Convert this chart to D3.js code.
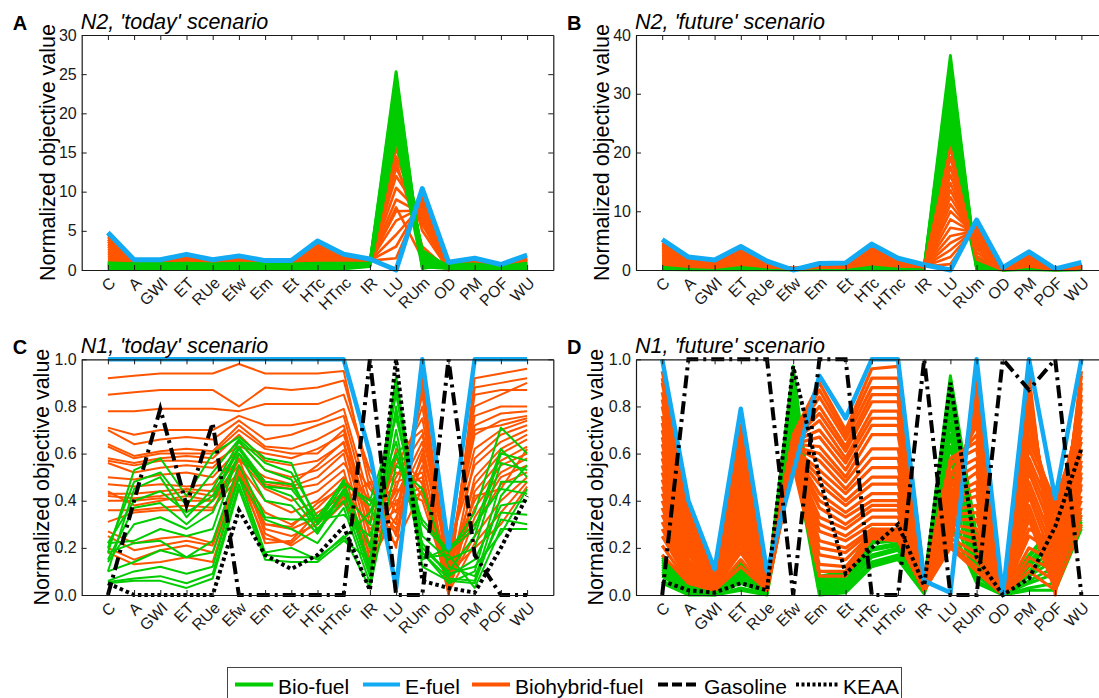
<!DOCTYPE html>
<html>
<head>
<meta charset="utf-8">
<script src="https://cdn.jsdelivr.net/npm/d3@7"></script>
<style>
  body { margin: 0; background: #fff; }
  svg text { font-family: "Liberation Sans", Arial, sans-serif; }
</style>
</head>
<body>
<svg class="MainSvg"></svg>
<script>
// ---- categories / ticks / titles ----
const categories = ["C", "A", "GWI", "ET", "RUe", "Efw", "Em", "Et", "HTc", "HTnc", "IR", "LU", "RUm", "OD", "PM", "POF", "WU"];
const ticksN2today = [0, 5, 10, 15, 20, 25, 30];
const ticksN2future = [0, 10, 20, 30, 40];
const ticksN1 = [0, 0.2, 0.4, 0.6, 0.8, 1.0];
const panelLetters = ["A", "B", "C", "D"];
const panelTitles = ["N2, 'today' scenario", "N2, 'future' scenario", "N1, 'today' scenario", "N1, 'future' scenario"];
const legendNames = ["Bio-fuel", "E-fuel", "Biohybrid-fuel", "Gasoline", "KEAA"];

// ---- A: N2 today ----
const aEfuel = [4.8, 1.3, 1.3, 2.0, 1.3, 1.8, 1.2, 1.2, 3.7, 2.0, 1.4, 0.0, 10.4, 1.0, 1.5, 0.7, 1.9];
const aBiohybrid = [
  [4.5, 1.0, 1.0, 1.6, 1.0, 1.4, 0.9, 0.9, 3.3, 1.7, 1.2, 1.5, 9.3, 0.9, 1.1, 0.5, 1.5],
  [4.2, 1.0, 1.0, 1.55, 1.0, 1.35, 0.9, 0.9, 3.1, 1.65, 1.2, 3.0, 8.8, 0.8, 1.1, 0.5, 1.45],
  [3.9, 0.95, 0.98, 1.5, 0.98, 1.3, 0.88, 0.88, 2.9, 1.6, 1.15, 4.5, 8.3, 0.7, 1.05, 0.48, 1.4],
  [3.6, 0.95, 0.97, 1.45, 0.97, 1.28, 0.88, 0.87, 2.7, 1.55, 1.15, 6.3, 8.0, 0.6, 1.0, 0.47, 1.35],
  [3.3, 0.93, 0.96, 1.4, 0.95, 1.25, 0.87, 0.86, 2.5, 1.5, 1.1, 7.5, 7.6, 0.5, 1.0, 0.46, 1.3],
  [3.0, 0.92, 0.95, 1.35, 0.94, 1.2, 0.86, 0.85, 2.3, 1.45, 1.1, 9.0, 7.2, 0.4, 0.98, 0.45, 1.25],
  [2.7, 0.9, 0.93, 1.3, 0.93, 1.18, 0.85, 0.84, 2.1, 1.4, 1.05, 10.5, 7.0, 0.3, 0.95, 0.44, 1.2],
  [2.4, 0.9, 0.92, 1.25, 0.92, 1.15, 0.85, 0.83, 1.9, 1.35, 1.05, 12.0, 6.8, 0.25, 0.93, 0.43, 1.15],
  [2.1, 0.88, 0.9, 1.2, 0.9, 1.1, 0.84, 0.82, 1.7, 1.3, 1.0, 13.0, 6.5, 0.2, 0.9, 0.42, 1.1],
  [1.8, 0.87, 0.9, 1.15, 0.9, 1.08, 0.83, 0.81, 1.5, 1.25, 1.0, 14.5, 6.2, 0.15, 0.88, 0.41, 1.05],
  [1.5, 0.86, 0.88, 1.1, 0.88, 1.05, 0.82, 0.8, 1.3, 1.2, 0.98, 15.5, 5.8, 0.1, 0.85, 0.4, 1.0],
  [1.2, 0.85, 0.87, 1.05, 0.87, 1.0, 0.82, 0.8, 1.1, 1.15, 0.96, 16.5, 5.0, 0.05, 0.83, 0.4, 0.95],
  [1.0, 0.84, 0.86, 1.0, 0.86, 0.98, 0.81, 0.79, 1.0, 1.1, 0.95, 13.8, 3.0, 0.0, 0.82, 0.39, 0.92],
  [0.95, 0.84, 0.85, 0.95, 0.85, 0.95, 0.8, 0.78, 0.95, 1.05, 0.94, 8.0, 1.5, 0.0, 0.8, 0.38, 0.9]
];
const aBio = [
  [0.9, 0.8, 0.8, 0.85, 0.75, 0.85, 0.8, 0.75, 0.85, 0.85, 0.85, 25.3, 0.2, 0.75, 0.75, 0.42, 0.85],
  [0.85, 0.75, 0.78, 0.82, 0.72, 0.82, 0.78, 0.72, 0.82, 0.82, 0.82, 24.6, 0.5, 0.72, 0.72, 0.4, 0.82],
  [0.8, 0.72, 0.75, 0.8, 0.7, 0.8, 0.75, 0.7, 0.8, 0.8, 0.8, 23.8, 0.8, 0.7, 0.7, 0.38, 0.8],
  [0.75, 0.7, 0.72, 0.75, 0.66, 0.76, 0.72, 0.66, 0.76, 0.76, 0.78, 23.0, 1.0, 0.66, 0.66, 0.36, 0.76],
  [0.7, 0.65, 0.68, 0.7, 0.62, 0.72, 0.68, 0.62, 0.72, 0.72, 0.75, 22.2, 1.3, 0.62, 0.62, 0.34, 0.72],
  [0.62, 0.6, 0.62, 0.65, 0.58, 0.66, 0.62, 0.58, 0.66, 0.66, 0.72, 21.4, 1.6, 0.58, 0.58, 0.32, 0.66],
  [0.55, 0.55, 0.56, 0.6, 0.52, 0.6, 0.56, 0.52, 0.6, 0.6, 0.7, 20.6, 1.9, 0.52, 0.52, 0.3, 0.6],
  [0.48, 0.48, 0.5, 0.52, 0.46, 0.52, 0.5, 0.46, 0.52, 0.52, 0.66, 19.8, 2.1, 0.46, 0.46, 0.27, 0.52],
  [0.4, 0.4, 0.42, 0.45, 0.4, 0.45, 0.42, 0.4, 0.45, 0.45, 0.62, 19.0, 2.3, 0.4, 0.4, 0.24, 0.45],
  [0.32, 0.32, 0.34, 0.36, 0.32, 0.36, 0.34, 0.32, 0.36, 0.36, 0.58, 18.2, 2.5, 0.34, 0.34, 0.2, 0.36],
  [0.22, 0.22, 0.24, 0.26, 0.22, 0.26, 0.24, 0.22, 0.26, 0.26, 0.52, 17.4, 1.2, 0.26, 0.26, 0.15, 0.26],
  [0.12, 0.12, 0.14, 0.16, 0.12, 0.16, 0.14, 0.12, 0.16, 0.16, 0.45, 16.8, 0.4, 0.18, 0.18, 0.1, 0.16]
];

// ---- B: N2 future ----
const bEfuel = [5.2, 2.2, 1.7, 4.0, 1.5, 0.0, 1.1, 1.2, 4.4, 2.0, 0.9, 0.0, 8.5, 0.4, 3.1, 0.2, 1.3];
const bBiohybrid = [
  [4.6, 1.8, 1.2, 3.5, 1.0, 0.3, 0.8, 0.9, 3.9, 1.6, 0.6, 1.0, 7.5, 0.1, 2.6, 0.1, 0.9],
  [4.35, 1.72, 1.15, 3.3, 0.97, 0.3, 0.77, 0.86, 3.7, 1.53, 0.59, 2.2, 7.3, 0.1, 2.45, 0.1, 0.87],
  [4.1, 1.65, 1.1, 3.1, 0.93, 0.29, 0.74, 0.83, 3.5, 1.47, 0.58, 3.4, 7.1, 0.1, 2.3, 0.1, 0.84],
  [3.85, 1.57, 1.06, 2.9, 0.9, 0.29, 0.71, 0.8, 3.3, 1.4, 0.57, 4.6, 6.9, 0.09, 2.15, 0.09, 0.8],
  [3.6, 1.5, 1.01, 2.7, 0.87, 0.28, 0.68, 0.76, 3.1, 1.34, 0.56, 5.8, 6.7, 0.09, 2.0, 0.09, 0.77],
  [3.35, 1.42, 0.96, 2.5, 0.83, 0.28, 0.65, 0.73, 2.9, 1.28, 0.55, 7.2, 6.4, 0.08, 1.85, 0.08, 0.73],
  [3.1, 1.35, 0.92, 2.3, 0.8, 0.27, 0.62, 0.7, 2.7, 1.21, 0.55, 8.6, 6.1, 0.08, 1.7, 0.08, 0.7],
  [2.85, 1.27, 0.87, 2.1, 0.77, 0.27, 0.59, 0.66, 2.5, 1.15, 0.54, 10.0, 5.8, 0.07, 1.55, 0.07, 0.66],
  [2.6, 1.2, 0.82, 1.95, 0.73, 0.26, 0.56, 0.63, 2.3, 1.08, 0.53, 11.2, 5.4, 0.07, 1.45, 0.07, 0.62],
  [2.35, 1.12, 0.77, 1.8, 0.7, 0.26, 0.53, 0.6, 2.1, 1.02, 0.53, 12.4, 5.0, 0.06, 1.35, 0.06, 0.58],
  [2.1, 1.04, 0.72, 1.65, 0.67, 0.25, 0.51, 0.56, 1.9, 0.96, 0.52, 13.6, 4.6, 0.05, 1.2, 0.05, 0.55],
  [1.85, 0.96, 0.67, 1.5, 0.63, 0.25, 0.49, 0.53, 1.7, 0.9, 0.52, 14.8, 4.1, 0.04, 1.1, 0.04, 0.51],
  [1.6, 0.87, 0.61, 1.35, 0.6, 0.24, 0.47, 0.5, 1.55, 0.83, 0.51, 16.2, 3.6, 0.03, 0.95, 0.03, 0.47],
  [1.4, 0.77, 0.54, 1.2, 0.57, 0.23, 0.45, 0.47, 1.4, 0.75, 0.51, 17.6, 3.0, 0.02, 0.85, 0.02, 0.43],
  [1.2, 0.66, 0.47, 1.05, 0.53, 0.23, 0.42, 0.44, 1.2, 0.68, 0.5, 19.2, 2.4, 0.01, 0.72, 0.01, 0.4],
  [0.95, 0.55, 0.4, 0.9, 0.5, 0.22, 0.4, 0.4, 1.0, 0.6, 0.5, 20.8, 1.8, 0.0, 0.6, 0.0, 0.35]
];
const bBio = [
  [0.9, 0.45, 0.35, 0.85, 0.45, 0.2, 0.35, 0.35, 0.95, 0.55, 0.45, 36.5, 0.1, 0.1, 0.6, 0.1, 0.35],
  [0.85, 0.42, 0.33, 0.8, 0.42, 0.19, 0.33, 0.33, 0.9, 0.52, 0.43, 35.1, 0.3, 0.1, 0.56, 0.1, 0.33],
  [0.78, 0.4, 0.31, 0.74, 0.4, 0.18, 0.31, 0.31, 0.84, 0.5, 0.41, 33.7, 0.5, 0.09, 0.52, 0.09, 0.31],
  [0.72, 0.37, 0.29, 0.68, 0.37, 0.17, 0.29, 0.29, 0.78, 0.46, 0.39, 32.3, 0.7, 0.08, 0.48, 0.08, 0.29],
  [0.65, 0.34, 0.27, 0.62, 0.34, 0.16, 0.27, 0.27, 0.71, 0.42, 0.37, 30.9, 0.9, 0.08, 0.44, 0.08, 0.27],
  [0.58, 0.31, 0.24, 0.55, 0.31, 0.15, 0.24, 0.24, 0.64, 0.38, 0.35, 29.5, 1.1, 0.07, 0.4, 0.07, 0.24],
  [0.5, 0.27, 0.21, 0.48, 0.27, 0.13, 0.21, 0.21, 0.56, 0.34, 0.32, 28.1, 1.3, 0.06, 0.35, 0.06, 0.21],
  [0.42, 0.23, 0.18, 0.41, 0.23, 0.12, 0.18, 0.18, 0.48, 0.29, 0.29, 26.7, 1.5, 0.05, 0.3, 0.05, 0.18],
  [0.34, 0.19, 0.15, 0.34, 0.19, 0.1, 0.15, 0.15, 0.39, 0.24, 0.25, 25.3, 1.7, 0.04, 0.25, 0.04, 0.15],
  [0.26, 0.15, 0.12, 0.26, 0.15, 0.08, 0.12, 0.12, 0.3, 0.18, 0.2, 23.9, 1.9, 0.03, 0.19, 0.03, 0.12],
  [0.18, 0.1, 0.08, 0.18, 0.1, 0.06, 0.08, 0.08, 0.2, 0.12, 0.14, 22.5, 1.2, 0.02, 0.12, 0.02, 0.08],
  [0.1, 0.05, 0.05, 0.1, 0.05, 0.05, 0.05, 0.05, 0.1, 0.05, 0.08, 21.1, 0.4, 0.0, 0.05, 0.0, 0.05]
];

// ---- C: N1 today ----
const cEfuel = [1, 1, 1, 1, 1, 1, 1, 1, 1, 1, 0.6, 0.03, 1.0, 0.2, 1.0, 1.0, 1.0];
const cGasoline = [0.0, 0.4, 0.79, 0.38, 0.73, 0.0, 0.0, 0.0, 0.0, 0.0, 1.0, 0.0, 0.0, 1.0, 0.17, 0.0, 0.0];
const cKeaa = [0.05, 0.0, 0.0, 0.0, 0.0, 0.36, 0.17, 0.11, 0.17, 0.29, 0.02, 1.0, 0.06, 0.03, 0.01, 0.2, 0.42];
const cBiohybrid = [
  [0.92, 0.93, 0.94, 0.94, 0.94, 0.98, 0.94, 0.94, 0.94, 0.95, 0.45, 0.30, 0.93, 0.02, 0.92, 0.94, 0.96],
  [0.85, 0.86, 0.87, 0.87, 0.87, 0.80, 0.88, 0.87, 0.88, 0.91, 0.50, 0.25, 0.88, 0.05, 0.88, 0.90, 0.92],
  [0.78, 0.78, 0.79, 0.79, 0.79, 0.78, 0.81, 0.81, 0.81, 0.85, 0.53, 0.35, 0.85, 0.08, 0.85, 0.87, 0.87],
  [0.71, 0.68, 0.70, 0.70, 0.70, 0.76, 0.72, 0.72, 0.74, 0.79, 0.40, 0.45, 0.80, 0.10, 0.76, 0.80, 0.80],
  [0.70, 0.64, 0.66, 0.67, 0.66, 0.74, 0.66, 0.68, 0.72, 0.76, 0.35, 0.55, 0.75, 0.12, 0.72, 0.77, 0.78],
  [0.64, 0.59, 0.61, 0.62, 0.61, 0.72, 0.63, 0.62, 0.66, 0.72, 0.30, 0.60, 0.70, 0.15, 0.68, 0.74, 0.76],
  [0.63, 0.58, 0.60, 0.60, 0.60, 0.70, 0.62, 0.60, 0.60, 0.70, 0.25, 0.50, 0.68, 0.18, 0.62, 0.70, 0.74],
  [0.58, 0.56, 0.58, 0.59, 0.58, 0.68, 0.57, 0.55, 0.57, 0.645, 0.20, 0.42, 0.65, 0.05, 0.58, 0.68, 0.72],
  [0.56, 0.52, 0.54, 0.55, 0.54, 0.65, 0.53, 0.50, 0.53, 0.615, 0.45, 0.38, 0.62, 0.20, 0.55, 0.65, 0.70],
  [0.50, 0.49, 0.51, 0.52, 0.50, 0.62, 0.48, 0.46, 0.50, 0.60, 0.15, 0.33, 0.58, 0.03, 0.50, 0.62, 0.68],
  [0.47, 0.46, 0.47, 0.46, 0.47, 0.60, 0.47, 0.45, 0.47, 0.56, 0.40, 0.28, 0.55, 0.10, 0.47, 0.60, 0.66],
  [0.43, 0.43, 0.44, 0.45, 0.44, 0.58, 0.45, 0.40, 0.44, 0.53, 0.12, 0.48, 0.52, 0.00, 0.44, 0.57, 0.63],
  [0.42, 0.41, 0.42, 0.44, 0.42, 0.55, 0.40, 0.35, 0.40, 0.50, 0.35, 0.52, 0.48, 0.13, 0.40, 0.55, 0.60],
  [0.40, 0.40, 0.41, 0.40, 0.40, 0.52, 0.35, 0.30, 0.37, 0.475, 0.10, 0.40, 0.46, 0.07, 0.37, 0.52, 0.58],
  [0.36, 0.36, 0.37, 0.38, 0.37, 0.50, 0.30, 0.28, 0.33, 0.44, 0.30, 0.22, 0.45, 0.02, 0.33, 0.50, 0.55],
  [0.31, 0.35, 0.36, 0.36, 0.36, 0.58, 0.28, 0.25, 0.30, 0.415, 0.18, 0.58, 0.42, 0.15, 0.30, 0.47, 0.52],
  [0.27, 0.22, 0.24, 0.25, 0.22, 0.55, 0.26, 0.21, 0.28, 0.39, 0.22, 0.45, 0.40, 0.05, 0.25, 0.40, 0.50],
  [0.25, 0.19, 0.21, 0.23, 0.21, 0.53, 0.22, 0.23, 0.35, 0.42, 0.14, 0.62, 0.47, 0.01, 0.22, 0.35, 0.48],
  [0.20, 0.15, 0.19, 0.21, 0.18, 0.52, 0.30, 0.29, 0.39, 0.46, 0.28, 0.36, 0.44, 0.09, 0.20, 0.30, 0.46],
  [0.18, 0.13, 0.14, 0.16, 0.14, 0.50, 0.24, 0.22, 0.32, 0.40, 0.48, 0.20, 0.90, 0.12, 0.80, 0.85, 0.90],
  [0.57, 0.55, 0.57, 0.57, 0.56, 0.63, 0.60, 0.58, 0.62, 0.68, 0.33, 0.27, 0.60, 0.16, 0.70, 0.72, 0.75],
  [0.44, 0.38, 0.40, 0.42, 0.40, 0.57, 0.50, 0.47, 0.55, 0.65, 0.26, 0.44, 0.50, 0.04, 0.42, 0.45, 0.62]
];
const cBio = [
  [0.18, 0.53, 0.58, 0.42, 0.60, 0.67, 0.58, 0.56, 0.30, 0.47, 0.40, 0.75, 0.30, 0.18, 0.35, 0.71, 0.60],
  [0.10, 0.45, 0.50, 0.33, 0.45, 0.65, 0.53, 0.49, 0.27, 0.45, 0.20, 0.93, 0.20, 0.10, 0.25, 0.60, 0.57],
  [0.22, 0.40, 0.44, 0.35, 0.42, 0.63, 0.48, 0.47, 0.30, 0.43, 0.30, 0.85, 0.25, 0.15, 0.20, 0.56, 0.53],
  [0.15, 0.37, 0.39, 0.30, 0.40, 0.62, 0.46, 0.42, 0.28, 0.40, 0.08, 0.80, 0.18, 0.05, 0.10, 0.48, 0.48],
  [0.22, 0.23, 0.28, 0.25, 0.28, 0.60, 0.46, 0.45, 0.31, 0.49, 0.12, 0.70, 0.15, 0.20, 0.30, 0.45, 0.43],
  [0.18, 0.22, 0.23, 0.16, 0.23, 0.55, 0.33, 0.32, 0.32, 0.34, 0.25, 0.60, 0.22, 0.08, 0.15, 0.38, 0.40],
  [0.10, 0.14, 0.19, 0.16, 0.18, 0.50, 0.32, 0.28, 0.22, 0.37, 0.05, 0.88, 0.12, 0.06, 0.05, 0.35, 0.34],
  [0.06, 0.10, 0.12, 0.09, 0.12, 0.50, 0.18, 0.20, 0.15, 0.25, 0.03, 0.55, 0.45, 0.12, 0.08, 0.32, 0.30],
  [0.055, 0.07, 0.08, 0.05, 0.09, 0.47, 0.17, 0.16, 0.16, 0.24, 0.35, 0.65, 0.16, 0.17, 0.03, 0.28, 0.28],
  [0.05, 0.06, 0.06, 0.03, 0.07, 0.45, 0.15, 0.14, 0.14, 0.23, 0.15, 0.78, 0.20, 0.09, 0.12, 0.26, 0.45],
  [0.14, 0.30, 0.33, 0.28, 0.35, 0.60, 0.40, 0.38, 0.26, 0.44, 0.10, 0.90, 0.18, 0.07, 0.06, 0.42, 0.55],
  [0.20, 0.48, 0.52, 0.38, 0.52, 0.66, 0.56, 0.52, 0.33, 0.48, 0.38, 0.60, 0.32, 0.19, 0.28, 0.62, 0.50]
];

// ---- D: N1 future ----
const dEfuel = [1.0, 0.4, 0.11, 0.79, 0.1, 0.52, 0.93, 0.75, 1.0, 1.0, 0.06, 0.01, 1.0, 0.0, 1.0, 0.41, 1.0];
const dGasoline = [0, 1, 1, 1, 1, 0, 1, 1, 0, 0, 1, 0, 0, 1, 0.87, 1, 0];
const dKeaa = [0.06, 0.02, 0.01, 0.05, 0.02, 0.97, 0.5, 0.09, 0.2, 0.3, 0.04, 0.9, 0.16, 0.0, 0.07, 0.29, 0.62];
const dBiohybrid = [
  [0.95, 0.38, 0.10, 0.72, 0.08, 0.68, 0.90, 0.70, 0.96, 0.97, 0.08, 0.20, 0.92, 0.0, 0.93, 0.0, 0.95],
  [0.92, 0.36, 0.09, 0.69, 0.08, 0.67, 0.87, 0.68, 0.92, 0.92, 0.07, 0.25, 0.88, 0.0, 0.90, 0.05, 0.93],
  [0.90, 0.34, 0.09, 0.66, 0.07, 0.67, 0.84, 0.66, 0.88, 0.88, 0.07, 0.30, 0.85, 0.0, 0.88, 0.10, 0.90],
  [0.86, 0.32, 0.08, 0.63, 0.07, 0.66, 0.80, 0.63, 0.85, 0.85, 0.06, 0.35, 0.82, 0.0, 0.85, 0.15, 0.88],
  [0.83, 0.30, 0.08, 0.60, 0.07, 0.66, 0.77, 0.61, 0.82, 0.82, 0.06, 0.40, 0.78, 0.0, 0.82, 0.20, 0.85],
  [0.80, 0.28, 0.08, 0.57, 0.06, 0.65, 0.74, 0.58, 0.78, 0.78, 0.06, 0.45, 0.75, 0.0, 0.78, 0.25, 0.83],
  [0.76, 0.27, 0.07, 0.54, 0.06, 0.65, 0.70, 0.56, 0.75, 0.75, 0.05, 0.50, 0.72, 0.0, 0.75, 0.30, 0.80],
  [0.73, 0.25, 0.07, 0.51, 0.06, 0.64, 0.67, 0.53, 0.72, 0.72, 0.05, 0.55, 0.68, 0.0, 0.72, 0.35, 0.78],
  [0.70, 0.24, 0.07, 0.48, 0.05, 0.64, 0.63, 0.50, 0.68, 0.68, 0.05, 0.58, 0.65, 0.0, 0.68, 0.38, 0.75],
  [0.67, 0.22, 0.06, 0.46, 0.05, 0.63, 0.60, 0.48, 0.62, 0.62, 0.05, 0.56, 0.62, 0.0, 0.65, 0.40, 0.72],
  [0.64, 0.21, 0.06, 0.44, 0.05, 0.63, 0.57, 0.45, 0.58, 0.58, 0.04, 0.52, 0.58, 0.0, 0.62, 0.36, 0.70],
  [0.61, 0.19, 0.06, 0.42, 0.05, 0.62, 0.53, 0.43, 0.54, 0.54, 0.04, 0.48, 0.55, 0.0, 0.58, 0.32, 0.67],
  [0.58, 0.18, 0.05, 0.40, 0.04, 0.62, 0.50, 0.40, 0.50, 0.50, 0.04, 0.44, 0.52, 0.0, 0.55, 0.28, 0.65],
  [0.55, 0.17, 0.05, 0.38, 0.04, 0.61, 0.47, 0.38, 0.47, 0.47, 0.04, 0.42, 0.48, 0.0, 0.52, 0.24, 0.62],
  [0.52, 0.15, 0.05, 0.36, 0.04, 0.61, 0.43, 0.35, 0.43, 0.43, 0.03, 0.40, 0.45, 0.0, 0.48, 0.20, 0.60],
  [0.49, 0.14, 0.05, 0.34, 0.04, 0.60, 0.40, 0.33, 0.40, 0.40, 0.03, 0.38, 0.42, 0.0, 0.45, 0.16, 0.57],
  [0.46, 0.13, 0.04, 0.32, 0.04, 0.60, 0.37, 0.30, 0.38, 0.38, 0.03, 0.36, 0.38, 0.0, 0.42, 0.12, 0.55],
  [0.43, 0.12, 0.04, 0.30, 0.03, 0.59, 0.33, 0.28, 0.36, 0.36, 0.03, 0.34, 0.35, 0.0, 0.38, 0.08, 0.52],
  [0.40, 0.11, 0.04, 0.28, 0.03, 0.59, 0.30, 0.25, 0.33, 0.33, 0.03, 0.32, 0.32, 0.0, 0.35, 0.05, 0.50],
  [0.37, 0.10, 0.04, 0.26, 0.03, 0.58, 0.27, 0.23, 0.30, 0.30, 0.02, 0.30, 0.28, 0.0, 0.32, 0.02, 0.47],
  [0.34, 0.09, 0.03, 0.24, 0.03, 0.58, 0.23, 0.20, 0.28, 0.28, 0.02, 0.28, 0.25, 0.0, 0.28, 0.22, 0.45],
  [0.31, 0.08, 0.03, 0.22, 0.03, 0.57, 0.20, 0.18, 0.27, 0.27, 0.02, 0.26, 0.22, 0.0, 0.25, 0.18, 0.42],
  [0.28, 0.07, 0.03, 0.20, 0.02, 0.57, 0.17, 0.15, 0.26, 0.26, 0.02, 0.24, 0.18, 0.0, 0.20, 0.14, 0.40],
  [0.25, 0.06, 0.03, 0.18, 0.02, 0.56, 0.13, 0.12, 0.25, 0.25, 0.02, 0.22, 0.15, 0.0, 0.16, 0.10, 0.37],
  [0.21, 0.05, 0.02, 0.15, 0.02, 0.56, 0.10, 0.10, 0.25, 0.24, 0.02, 0.21, 0.12, 0.0, 0.13, 0.06, 0.34],
  [0.17, 0.05, 0.02, 0.12, 0.02, 0.55, 0.08, 0.08, 0.24, 0.23, 0.02, 0.20, 0.10, 0.0, 0.10, 0.02, 0.30]
];
const dBio = [
  [0.17, 0.05, 0.02, 0.14, 0.03, 0.97, 0.08, 0.10, 0.28, 0.27, 0.05, 0.93, 0.25, 0.0, 0.17, 0.30, 0.35],
  [0.16, 0.045, 0.02, 0.13, 0.03, 0.94, 0.075, 0.095, 0.27, 0.26, 0.045, 0.88, 0.23, 0.0, 0.16, 0.29, 0.35],
  [0.15, 0.04, 0.02, 0.12, 0.025, 0.91, 0.07, 0.09, 0.25, 0.25, 0.04, 0.83, 0.21, 0.0, 0.14, 0.27, 0.34],
  [0.14, 0.035, 0.015, 0.11, 0.025, 0.88, 0.065, 0.085, 0.23, 0.24, 0.04, 0.78, 0.19, 0.0, 0.13, 0.25, 0.34],
  [0.13, 0.03, 0.015, 0.10, 0.02, 0.85, 0.06, 0.08, 0.22, 0.23, 0.035, 0.73, 0.17, 0.0, 0.12, 0.23, 0.33],
  [0.12, 0.03, 0.01, 0.09, 0.02, 0.82, 0.05, 0.07, 0.20, 0.22, 0.03, 0.68, 0.15, 0.0, 0.10, 0.21, 0.33],
  [0.11, 0.025, 0.01, 0.08, 0.015, 0.78, 0.045, 0.06, 0.19, 0.21, 0.03, 0.63, 0.14, 0.0, 0.09, 0.18, 0.32],
  [0.10, 0.02, 0.01, 0.07, 0.015, 0.75, 0.04, 0.05, 0.17, 0.20, 0.025, 0.58, 0.12, 0.0, 0.08, 0.15, 0.31],
  [0.09, 0.015, 0.005, 0.06, 0.01, 0.72, 0.03, 0.04, 0.16, 0.19, 0.02, 0.52, 0.10, 0.0, 0.06, 0.12, 0.31],
  [0.08, 0.01, 0.005, 0.05, 0.01, 0.68, 0.02, 0.03, 0.14, 0.17, 0.015, 0.45, 0.08, 0.0, 0.05, 0.09, 0.30],
  [0.06, 0.005, 0.0, 0.03, 0.005, 0.64, 0.01, 0.02, 0.13, 0.16, 0.01, 0.38, 0.06, 0.0, 0.03, 0.05, 0.29],
  [0.05, 0.0, 0.0, 0.02, 0.0, 0.60, 0.0, 0.01, 0.12, 0.15, 0.005, 0.30, 0.05, 0.0, 0.02, 0.02, 0.28]
];

// ---- styles ----
const GREEN = "#00cc00", BLUE = "#12aaf2", ORANGE = "#ff5500", BLACK = "#000";
const GAS_DASH = "13,5,3,5", KEAA_DASH = "3.5,3";

const W = 1099, H = 698;
const plotW = 471.6;
const svg = d3.select(".MainSvg").attr("width", W).attr("height", H)
  .style("background", "#fff");

function drawPanel(p) {
  const g = svg.append("g");
  const x = d3.scalePoint().domain(categories).range([p.left, p.left + plotW]).padding(1);
  const y = d3.scaleLinear().domain([0, p.yMax]).range([p.bottom, p.top]);
  const line = d3.line().x((d, i) => x(categories[i])).y(d => y(d));

  p.layers.forEach(s => {
    g.append("g").selectAll("path").data(s.rows).enter().append("path")
      .attr("d", line)
      .attr("fill", "none")
      .attr("stroke", s.color)
      .attr("stroke-width", s.width)
      .attr("stroke-linejoin", s.join || "round")
      .attr("stroke-dasharray", s.dash || null);
  });

  // box + ticks (inward, as in the original)
  const axisColor = "#1a1a1a";
  const gb = g.append("g").attr("transform", `translate(0,${p.bottom})`)
    .call(d3.axisBottom(x).tickSizeInner(-5).tickSizeOuter(0).tickPadding(0));
  gb.selectAll("text")
    .attr("y", 0).attr("dy", "0.35em")
    .attr("text-anchor", "end")
    .attr("transform", "translate(4,10) rotate(-45)");
  g.append("g").attr("transform", `translate(0,${p.top})`)
    .call(d3.axisTop(x).tickSizeInner(-5).tickSizeOuter(0).tickFormat(""));
  g.append("g").attr("transform", `translate(${p.left},0)`)
    .call(d3.axisLeft(y).tickValues(p.ticks).tickSizeInner(-5).tickSizeOuter(0)
      .tickPadding(5).tickFormat(p.fmt));
  g.append("g").attr("transform", `translate(${p.left + plotW},0)`)
    .call(d3.axisRight(y).tickValues(p.ticks).tickSizeInner(-5).tickSizeOuter(0).tickFormat(""));
  g.selectAll(".tick text, .domain, .tick line").attr("color", axisColor);
  g.selectAll(".domain").attr("stroke-width", 1.2);
  g.selectAll("g").filter(function () { return this.getAttribute("font-size"); })
    .attr("font-size", 16).attr("font-family", "Liberation Sans, Arial, sans-serif");

  // y label
  g.append("text")
    .attr("transform", `translate(${p.labelX},${(p.top + p.bottom) / 2}) rotate(-90)`)
    .attr("text-anchor", "middle")
    .attr("font-size", 21.5)
    .text("Normalized objective value");
  // title + letter
  g.append("text").attr("x", p.left - 1).attr("y", p.top - 6)
    .attr("font-size", 21.5).attr("font-style", "italic").text(p.title);
  g.append("text").attr("x", p.left - 69).attr("y", p.top - 5)
    .attr("font-size", 20).attr("font-weight", "bold").text(p.letter);
}

const row1 = { top: 35, bottom: 270 };
const row2 = { top: 359.3, bottom: 595 };

drawPanel({
  left: 81.7, top: row1.top, bottom: row1.bottom, yMax: 30, ticks: ticksN2today, fmt: d3.format("d"),
  labelX: 55, title: panelTitles[0], letter: panelLetters[0],
  layers: [
    { rows: aBiohybrid, color: ORANGE, width: 2.6 },
    { rows: aBio, color: GREEN, width: 3 },
    { rows: [aEfuel], color: BLUE, width: 5 }
  ]
});
drawPanel({
  left: 636, top: row1.top, bottom: row1.bottom, yMax: 40, ticks: ticksN2future, fmt: d3.format("d"),
  labelX: 609, title: panelTitles[1], letter: panelLetters[1],
  layers: [
    { rows: bBio, color: GREEN, width: 3 },
    { rows: bBiohybrid, color: ORANGE, width: 2.6 },
    { rows: [bEfuel], color: BLUE, width: 5 }
  ]
});
drawPanel({
  left: 81.7, top: row2.top, bottom: row2.bottom, yMax: 1, ticks: ticksN1, fmt: d3.format(".1f"),
  labelX: 49, title: panelTitles[2], letter: panelLetters[2],
  layers: [
    { rows: cBiohybrid, color: ORANGE, width: 2 },
    { rows: cBio, color: GREEN, width: 2 },
    { rows: [cEfuel], color: BLUE, width: 4.5 },
    { rows: [cGasoline], color: BLACK, width: 4, dash: GAS_DASH, join: "miter" },
    { rows: [cKeaa], color: BLACK, width: 4, dash: KEAA_DASH, join: "miter" }
  ]
});
drawPanel({
  left: 636, top: row2.top, bottom: row2.bottom, yMax: 1, ticks: ticksN1, fmt: d3.format(".1f"),
  labelX: 603, title: panelTitles[3], letter: panelLetters[3],
  layers: [
    { rows: dBio, color: GREEN, width: 3 },
    { rows: dBiohybrid, color: ORANGE, width: 3.2 },
    { rows: [dEfuel], color: BLUE, width: 4.5 },
    { rows: [dGasoline], color: BLACK, width: 4, dash: GAS_DASH, join: "miter" },
    { rows: [dKeaa], color: BLACK, width: 4, dash: KEAA_DASH, join: "miter" }
  ]
});

// legend
const legendStyles = [
  { color: GREEN, dash: null, x0: 235, x1: 273 },
  { color: BLUE, dash: null, x0: 363, x1: 400 },
  { color: ORANGE, dash: null, x0: 472, x1: 510 },
  { color: BLACK, dash: "10,4", x0: 658, x1: 699 },
  { color: BLACK, dash: "3,2.5", x0: 796, x1: 838 }
];
const lg = svg.append("g");
lg.append("rect").attr("x", 227.5).attr("y", 667.5).attr("width", 674).attr("height", 50)
  .attr("fill", "#fff").attr("stroke", "#444").attr("stroke-width", 1);
const items = lg.selectAll("g.item").data(legendNames).enter().append("g").attr("class", "item");
items.append("line")
  .attr("x1", (d, i) => legendStyles[i].x0).attr("x2", (d, i) => legendStyles[i].x1)
  .attr("y1", 684.5).attr("y2", 684.5)
  .attr("stroke", (d, i) => legendStyles[i].color)
  .attr("stroke-width", 4)
  .attr("stroke-dasharray", (d, i) => legendStyles[i].dash);
items.append("text")
  .attr("x", (d, i) => legendStyles[i].x1 + 5)
  .attr("y", 693.5)
  .attr("font-size", 21)
  .text(d => d);
</script>
</body>
</html>
